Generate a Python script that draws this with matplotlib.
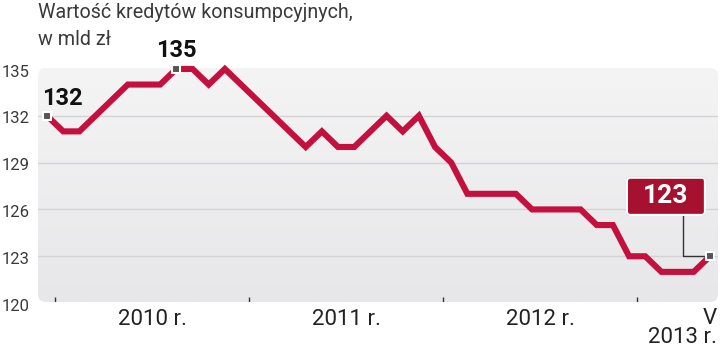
import numpy as np
import matplotlib.pyplot as plt
from matplotlib.patches import FancyBboxPatch
from matplotlib.colors import LinearSegmentedColormap

# monthly values, XII 2009 - V 2013 (bln zl)
values = [132, 131, 131, 132, 133, 134, 134, 134, 135, 135, 134, 135,
          134, 133, 132, 131, 130, 131, 130, 130, 131, 132, 131, 132,
          130, 129, 127, 127, 127, 127, 126, 126, 126, 126, 125, 125,
          123, 123, 122, 122, 122, 123]
months = np.arange(len(values))
yticks = [120, 123, 126, 129, 132, 135]
year_labels = ["2010 r.", "2011 r.", "2012 r."]
year_starts = [0.5, 12.5, 24.5, 36.5]   # boundaries between Dec and Jan

red = "#c4103d"
fam = ["Roboto", "DejaVu Sans"]

fig = plt.figure(figsize=(7.2, 3.51), dpi=100)
ax = fig.add_axes([38/720, 49/351, 680/720, 234/351])
x0, x1 = -0.557, 41.5
y0, y1 = 120.07, 135.06
ax.set_xlim(x0, x1)
ax.set_ylim(y0, y1)
ax.axis("off")

# rounded, slightly shaded background
box = FancyBboxPatch((0, 0), 1, 1, boxstyle="round,pad=0,rounding_size=0.012",
                     transform=ax.transAxes, fc="none", ec="none",
                     mutation_aspect=680/234)
ax.add_patch(box)
cmap = LinearSegmentedColormap.from_list("bg", ["#e7e7e9", "#f4f4f5"])
grad = np.linspace(0, 1, 100).reshape(-1, 1)
im = ax.imshow(grad, extent=[x0, x1, y0, y1], origin="lower", aspect="auto",
               cmap=cmap, zorder=0)
im.set_clip_path(box)

for v in yticks[1:-1]:
    ax.plot([x0, x1], [v, v], color="#d3d3d5", lw=1, zorder=1)
for v in yticks:
    ax.text(x0 - 0.5, v - 0.2, str(v), ha="right", va="center", fontsize=12,
            color="#3a3a3a", family=fam, clip_on=False)

ax.vlines(year_starts, y0, y0 + 0.33, color="#333333", lw=1, zorder=2)
for i, lab in enumerate(year_labels):
    ax.text((year_starts[i] + year_starts[i+1]) / 2, y0 - 1.1, lab,
            ha="center", va="center", fontsize=16, color="#222222", family=fam)
ax.text(x1 - 0.1, y0 - 1.05, "V", ha="right", va="center", fontsize=16,
        color="#222222", family=fam)
ax.text(x1 - 0.1, y0 - 2.3, "2013 r.", ha="right", va="center", fontsize=16,
        color="#222222", family=fam)

ax.plot(months, values, color=red, lw=4.4, solid_joinstyle="miter",
        zorder=3, clip_on=False)

# highlighted points
for i in [0, 8, len(values) - 1]:
    ax.plot(months[i], values[i], marker="s", ms=6, mfc="#555555", mec="white",
            mew=1.5, zorder=5, clip_on=False)

ax.text(-0.31, 132.7, str(values[0]), ha="left", va="baseline", fontsize=17,
        fontweight="bold", color="#111111", family=fam)
ax.text(8, 135.77, str(values[8]), ha="center", va="baseline", fontsize=17,
        fontweight="bold", color="#111111", family=fam)

# callout for the last value
last = len(values) - 1
ax.plot([39.33, 39.33, months[last]], [125.7, values[last], values[last]],
        color="#333333", lw=1, zorder=4)
shadow = FancyBboxPatch((35.80, 125.58), 4.96, 2.52,
                        boxstyle="round,pad=0,rounding_size=0.27",
                        mutation_aspect=1.04, fc="#bdbdc0", ec="none",
                        zorder=5.5, clip_on=False)
ax.add_patch(shadow)
callout = FancyBboxPatch((35.87, 125.65), 4.82, 2.38,
                         boxstyle="round,pad=0,rounding_size=0.22",
                         mutation_aspect=1.04, fc="#a5112f", ec="white",
                         lw=1.5, zorder=6, clip_on=False)
ax.add_patch(callout)
ax.text(38.28, 126.84, str(values[last]), ha="center", va="center",
        fontsize=19, fontweight="bold", color="white", family=fam, zorder=7)

fig.text(38/720, 1 - 18/351, "Wartość kredytów konsumpcyjnych,", ha="left",
         va="baseline", fontsize=14.2, color="#3a3a3a", family=fam)
fig.text(38/720, 1 - 45/351, "w mld zł", ha="left", va="baseline",
         fontsize=14.2, color="#3a3a3a", family=fam)

fig.savefig("out.png", dpi=100)
